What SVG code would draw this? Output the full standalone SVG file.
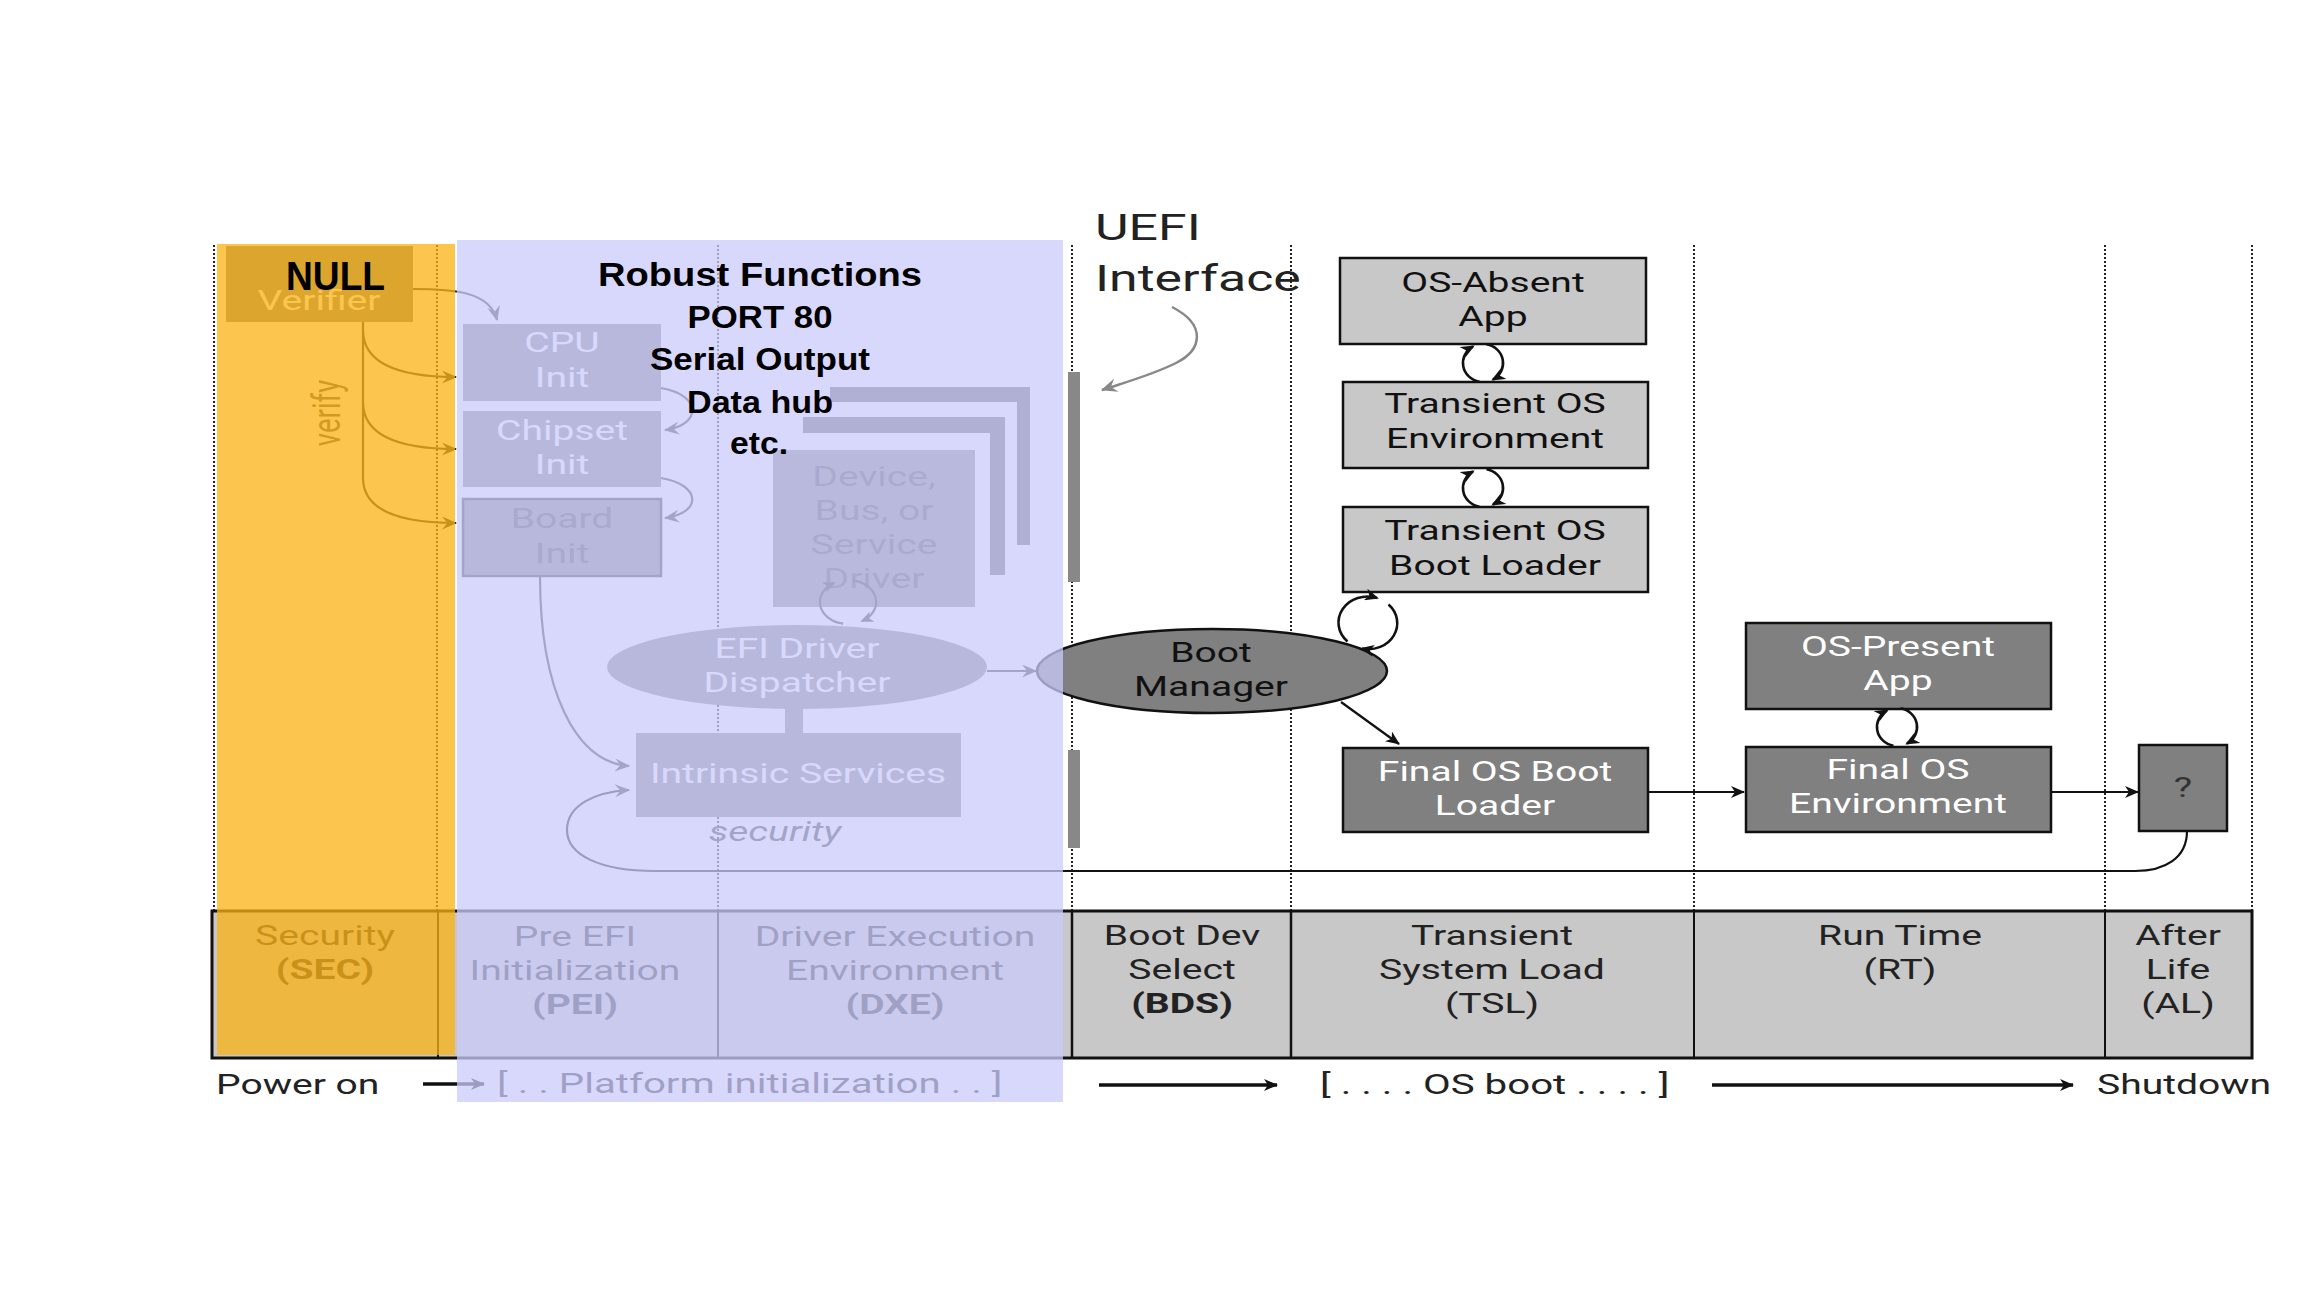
<svg xmlns="http://www.w3.org/2000/svg" width="2304" height="1296" viewBox="0 0 2304 1296">
<defs>
<style>
.t{font-family:Roboto,"Open Sans","Noto Sans",sans-serif;font-size:27.5px;fill:#222;}
.w{fill:#fff;}
.bd{font-weight:bold;}
.b{font-family:"Liberation Sans",Arial,sans-serif;font-weight:bold;fill:#000;}
.dot{stroke:#222;stroke-width:2;stroke-dasharray:2 2;fill:none;}
.lt{fill:#c8c8c8;stroke:#111;stroke-width:2.5;}
.dg{fill:#808080;stroke:#111;stroke-width:2.5;}
.gb{fill:#808080;}
.ln{fill:none;stroke:#111;stroke-width:2.2;}
.lp{fill:none;stroke:#111;stroke-width:2.6;}
.lg{fill:none;stroke:#333;stroke-width:2.2;}
.thick{fill:none;stroke:#111;stroke-width:3.5;}
</style>
<marker id="ah" viewBox="0 0 14 12" refX="13" refY="6" markerWidth="14" markerHeight="12" markerUnits="userSpaceOnUse" orient="auto"><path d="M0,0 L14,6 L0,12 L4,6 z" fill="#111"/></marker>
<marker id="ahs" viewBox="0 0 14 12" refX="12" refY="6" markerWidth="14" markerHeight="12" markerUnits="userSpaceOnUse" orient="auto"><path d="M0,0 L14,6 L0,12 L4,6 z" fill="#111"/></marker>
<marker id="ahg" viewBox="0 0 14 12" refX="13" refY="6" markerWidth="16" markerHeight="13" markerUnits="userSpaceOnUse" orient="auto"><path d="M0,0 L14,6 L0,12 L5,6 z" fill="#333"/></marker>
<marker id="ahgs" viewBox="0 0 14 12" refX="12" refY="6" markerWidth="13" markerHeight="11" markerUnits="userSpaceOnUse" orient="auto"><path d="M0,0 L14,6 L0,12 L4,6 z" fill="#333"/></marker>
<marker id="ahu" viewBox="0 0 14 12" refX="13" refY="6" markerWidth="18" markerHeight="14" markerUnits="userSpaceOnUse" orient="auto"><path d="M0,0 L14,6 L0,12 L5,6 z" fill="#888"/></marker>
</defs>
<rect x="0" y="0" width="2304" height="1296" fill="#fff"/>

<g id="phase-lines">
<line class="dot" x1="214" y1="245" x2="214" y2="911"/>
<line class="dot" x1="437" y1="245" x2="437" y2="911"/>
<line class="dot" x1="718" y1="245" x2="718" y2="911"/>
<line class="dot" x1="1072" y1="245" x2="1072" y2="911"/>
<line class="dot" x1="1291" y1="245" x2="1291" y2="911"/>
<line class="dot" x1="1694" y1="245" x2="1694" y2="911"/>
<line class="dot" x1="2105" y1="245" x2="2105" y2="911"/>
<line class="dot" x1="2252" y1="245" x2="2252" y2="911"/>
</g>

<g id="phase-table">
<rect x="212" y="911" width="2040" height="147" fill="#c8c8c8" stroke="#111" stroke-width="3"/>
<line x1="438" y1="911" x2="438" y2="1058" stroke="#111" stroke-width="2"/>
<line x1="718" y1="911" x2="718" y2="1058" stroke="#111" stroke-width="2"/>
<line x1="1072" y1="911" x2="1072" y2="1058" stroke="#111" stroke-width="2.5"/>
<line x1="1291" y1="911" x2="1291" y2="1058" stroke="#111" stroke-width="2.5"/>
<line x1="1694" y1="911" x2="1694" y2="1058" stroke="#111" stroke-width="2"/>
<line x1="2105" y1="911" x2="2105" y2="1058" stroke="#111" stroke-width="2"/>
<text class="t" transform="translate(325,0) scale(1.42,1)" text-anchor="middle" style="fill:#333"><tspan x="0" y="945">Security</tspan><tspan x="0" y="979" class="bd">(SEC)</tspan></text>
<text class="t" transform="translate(575,0) scale(1.42,1)" text-anchor="middle"><tspan x="0" y="946">Pre EFI</tspan><tspan x="0" y="980">Initialization</tspan><tspan x="0" y="1014" class="bd">(PEI)</tspan></text>
<text class="t" transform="translate(895,0) scale(1.42,1)" text-anchor="middle"><tspan x="0" y="946">Driver Execution</tspan><tspan x="0" y="980">Environment</tspan><tspan x="0" y="1014" class="bd">(DXE)</tspan></text>
<text class="t" transform="translate(1182,0) scale(1.42,1)" text-anchor="middle"><tspan x="0" y="945">Boot Dev</tspan><tspan x="0" y="979">Select</tspan><tspan x="0" y="1013" class="bd">(BDS)</tspan></text>
<text class="t" transform="translate(1492,0) scale(1.42,1)" text-anchor="middle"><tspan x="0" y="945">Transient</tspan><tspan x="0" y="979">System Load</tspan><tspan x="0" y="1013">(TSL)</tspan></text>
<text class="t" transform="translate(1900,0) scale(1.42,1)" text-anchor="middle"><tspan x="0" y="945">Run Time</tspan><tspan x="0" y="979">(RT)</tspan></text>
<text class="t" transform="translate(2178,0) scale(1.42,1)" text-anchor="middle"><tspan x="0" y="945">After</tspan><tspan x="0" y="979">Life</tspan><tspan x="0" y="1013">(AL)</tspan></text>
</g>

<g id="timeline">
<text class="t" transform="translate(216,0) scale(1.42,1)" y="1094">Power on</text>
<text class="t" transform="translate(497,0) scale(1.42,1)" y="1093" textLength="356" lengthAdjust="spacingAndGlyphs">[ . . Platform initialization . . ]</text>
<text class="t" transform="translate(1320,0) scale(1.42,1)" y="1094" textLength="246" lengthAdjust="spacingAndGlyphs">[ . . . . OS boot . . . . ]</text>
<text class="t" transform="translate(2097,0) scale(1.42,1)" y="1094">Shutdown</text>
</g>

<g id="uefi-interface">
<rect x="1068" y="372" width="12" height="210" fill="#888"/>
<rect x="1068" y="750" width="12" height="98" fill="#888"/>
<text class="t" transform="translate(1095,0) scale(1.4,1)" style="font-size:37px"><tspan x="0" y="240">UEFI</tspan><tspan x="0" y="291">Interface</tspan></text>
</g>

<g id="pre-verifier">
<rect x="226" y="246" width="187" height="76" class="gb"/>
<text class="t w" transform="translate(319,0) scale(1.42,1)" text-anchor="middle" y="310">Verifier</text>
</g>
<text id="verify-label" class="t" style="fill:#555" transform="translate(340,413) scale(1.42,1) rotate(-90)" text-anchor="middle">verify</text>

<g id="cpu-init">
<rect x="463" y="324" width="198" height="77" class="gb"/>
<text class="t w" transform="translate(562,0) scale(1.42,1)" text-anchor="middle"><tspan x="0" y="352">CPU</tspan><tspan x="0" y="387">Init</tspan></text>
</g>
<g id="chipset-init">
<rect x="463" y="411" width="198" height="76" class="gb"/>
<text class="t w" transform="translate(562,0) scale(1.42,1)" text-anchor="middle"><tspan x="0" y="440">Chipset</tspan><tspan x="0" y="474">Init</tspan></text>
</g>
<g id="board-init">
<rect x="463" y="499" width="198" height="77" class="gb" stroke="#333" stroke-width="2.5"/>
<text class="t" transform="translate(562,0) scale(1.42,1)" text-anchor="middle" style="fill:#444"><tspan x="0" y="528">Board</tspan><tspan x="0" y="563">Init</tspan></text>
</g>

<g id="device-driver">
<rect x="830" y="387" width="200" height="158" fill="#606060"/>
<rect x="818" y="402" width="199" height="153" fill="#fff"/>
<rect x="803" y="417" width="202" height="158" fill="#606060"/>
<rect x="792" y="433" width="198" height="157" fill="#fff"/>
<rect x="773" y="450" width="202" height="157" fill="#858585"/>
<text class="t" transform="translate(874,0) scale(1.42,1)" text-anchor="middle" style="fill:#4a4a4a"><tspan x="0" y="486">Device,</tspan><tspan x="0" y="520">Bus, or</tspan><tspan x="0" y="554">Service</tspan><tspan x="0" y="588">Driver</tspan></text>
</g>

<g id="efi-driver-dispatcher">
<ellipse cx="797" cy="667" rx="190" ry="42" class="gb"/>
<text class="t w" transform="translate(797,0) scale(1.42,1)" text-anchor="middle"><tspan x="0" y="658">EFI Driver</tspan><tspan x="0" y="692">Dispatcher</tspan></text>
</g>
<g id="intrinsic-services">
<rect x="785" y="705" width="18" height="30" class="gb"/>
<rect x="636" y="733" width="325" height="84" class="gb"/>
<text class="t w" transform="translate(798,0) scale(1.42,1)" text-anchor="middle" y="783">Intrinsic Services</text>
</g>
<text id="security-label" class="t" transform="translate(775,0) scale(1.42,1)" text-anchor="middle" y="841" style="font-style:italic;fill:#333">security</text>

<g id="boot-manager">
<ellipse cx="1212" cy="671" rx="175" ry="42" class="dg"/>
<text class="t" transform="translate(1211,0) scale(1.42,1)" text-anchor="middle" style="fill:#111"><tspan x="0" y="662">Boot</tspan><tspan x="0" y="696">Manager</tspan></text>
</g>

<g id="os-absent-app">
<rect x="1340" y="258" width="306" height="86" class="lt"/>
<text class="t" transform="translate(1493,0) scale(1.42,1)" text-anchor="middle" style="fill:#111"><tspan x="0" y="292">OS-Absent</tspan><tspan x="0" y="326">App</tspan></text>
</g>
<g id="transient-os-environment">
<rect x="1343" y="382" width="305" height="86" class="lt"/>
<text class="t" transform="translate(1495,0) scale(1.42,1)" text-anchor="middle" style="fill:#111"><tspan x="0" y="413">Transient OS</tspan><tspan x="0" y="448">Environment</tspan></text>
</g>
<g id="transient-os-boot-loader">
<rect x="1343" y="507" width="305" height="85" class="lt"/>
<text class="t" transform="translate(1495,0) scale(1.42,1)" text-anchor="middle" style="fill:#111"><tspan x="0" y="540">Transient OS</tspan><tspan x="0" y="575">Boot Loader</tspan></text>
</g>
<g id="final-os-boot-loader">
<rect x="1343" y="748" width="305" height="84" class="dg"/>
<text class="t w" transform="translate(1495,0) scale(1.42,1)" text-anchor="middle"><tspan x="0" y="781">Final OS Boot</tspan><tspan x="0" y="815">Loader</tspan></text>
</g>
<g id="os-present-app">
<rect x="1746" y="623" width="305" height="86" class="dg"/>
<text class="t w" transform="translate(1898,0) scale(1.42,1)" text-anchor="middle"><tspan x="0" y="656">OS-Present</tspan><tspan x="0" y="690">App</tspan></text>
</g>
<g id="final-os-environment">
<rect x="1746" y="747" width="305" height="85" class="dg"/>
<text class="t w" transform="translate(1898,0) scale(1.42,1)" text-anchor="middle"><tspan x="0" y="779">Final OS</tspan><tspan x="0" y="813">Environment</tspan></text>
</g>
<g id="after-life-unknown">
<rect x="2139" y="745" width="88" height="86" class="dg"/>
<text class="t" transform="translate(2183,0) scale(1.42,1)" text-anchor="middle" y="797" style="fill:#333">?</text>
</g>

<g id="connectors">
<path class="lg" d="M363,322 V478 C363,508 395,523 456,523" marker-end="url(#ahg)"/>
<path class="lg" d="M363,330 C363,362 395,377 456,377" marker-end="url(#ahg)"/>
<path class="lg" d="M363,402 C363,434 395,449 456,449" marker-end="url(#ahg)"/>
<path class="lg" d="M413,289 C455,289 490,292 497,320" marker-end="url(#ahg)"/>
<path class="lg" d="M661,388 C702,395 702,425 665,430" marker-end="url(#ahg)"/>
<path class="lg" d="M661,478 C702,485 702,513 665,518" marker-end="url(#ahg)"/>
<path class="lg" d="M540,576 C540,690 575,762 629,766" marker-end="url(#ahg)"/>
<path class="lg" d="M843.1,623.7 A28,22 0 0 1 834,582.9" marker-end="url(#ahgs)"/>
<path class="lg" d="M852.9,580.3 A28,22 0 0 1 862,621.1" marker-end="url(#ahgs)"/>
<path class="lg" d="M987,671 H1036" marker-end="url(#ahg)"/>
<path class="ln" d="M2187,831 C2187,858 2165,871 2135,871 H655 C600,871 567,855 567,830 C567,805 595,792 629,790" marker-end="url(#ahg)"/>
<path fill="none" stroke="#888" stroke-width="2.5" d="M1172,307 C1207,325 1202,350 1176,363 C1152,375 1126,382 1102,390" marker-end="url(#ahu)"/>
<path class="lp" d="M1479.5,381.7 A20,19 0 0 1 1473,346.5" marker-end="url(#ahs)"/>
<path class="lp" d="M1486.5,344.3 A20,19 0 0 1 1493,379.5" marker-end="url(#ahs)"/>
<path class="lp" d="M1479.5,506.7 A20,19 0 0 1 1473,471.5" marker-end="url(#ahs)"/>
<path class="lp" d="M1486.5,469.3 A20,19 0 0 1 1493,504.5" marker-end="url(#ahs)"/>
<path class="lp" d="M1893.5,745.7 A20,19 0 0 1 1887,710.5" marker-end="url(#ahs)"/>
<path class="lp" d="M1900.5,708.3 A20,19 0 0 1 1907,743.5" marker-end="url(#ahs)"/>
<path class="lp" d="M1347.5,641.4 A29,26 0 0 1 1377,598" marker-end="url(#ahs)"/>
<path class="lp" d="M1388.5,604.6 A29,26 0 0 1 1362,648.6" marker-end="url(#ahs)"/>
<path class="ln" d="M1341,702 L1399,744" marker-end="url(#ah)"/>
<path class="ln" d="M1648,792 H1744" marker-end="url(#ah)"/>
<path class="ln" d="M2051,792 H2138" marker-end="url(#ah)"/>
<path class="thick" d="M423,1084 H484" marker-end="url(#ah)"/>
<path class="thick" d="M1099,1085 H1277" marker-end="url(#ah)"/>
<path class="thick" d="M1712,1085 H2073" marker-end="url(#ah)"/>
</g>

<g id="highlight-overlays">
<rect x="217" y="244" width="238" height="811" fill="#fbb213" fill-opacity="0.75"/>
<rect x="457" y="240" width="606" height="862" fill="#cbcbfb" fill-opacity="0.75"/>
</g>

<g id="annotations">
<text class="b" x="286" y="290" style="font-size:40px" textLength="99" lengthAdjust="spacingAndGlyphs">NULL</text>
<text class="b" x="760" y="286" text-anchor="middle" style="font-size:34px" textLength="324" lengthAdjust="spacingAndGlyphs">Robust Functions</text>
<text class="b" x="760" y="328" text-anchor="middle" style="font-size:31px" textLength="145" lengthAdjust="spacingAndGlyphs">PORT 80</text>
<text class="b" x="760" y="370" text-anchor="middle" style="font-size:31px" textLength="220" lengthAdjust="spacingAndGlyphs">Serial Output</text>
<text class="b" x="760" y="413" text-anchor="middle" style="font-size:31px" textLength="146" lengthAdjust="spacingAndGlyphs">Data hub</text>
<text class="b" x="759" y="454" text-anchor="middle" style="font-size:31px" textLength="58" lengthAdjust="spacingAndGlyphs">etc.</text>
</g>
</svg>
